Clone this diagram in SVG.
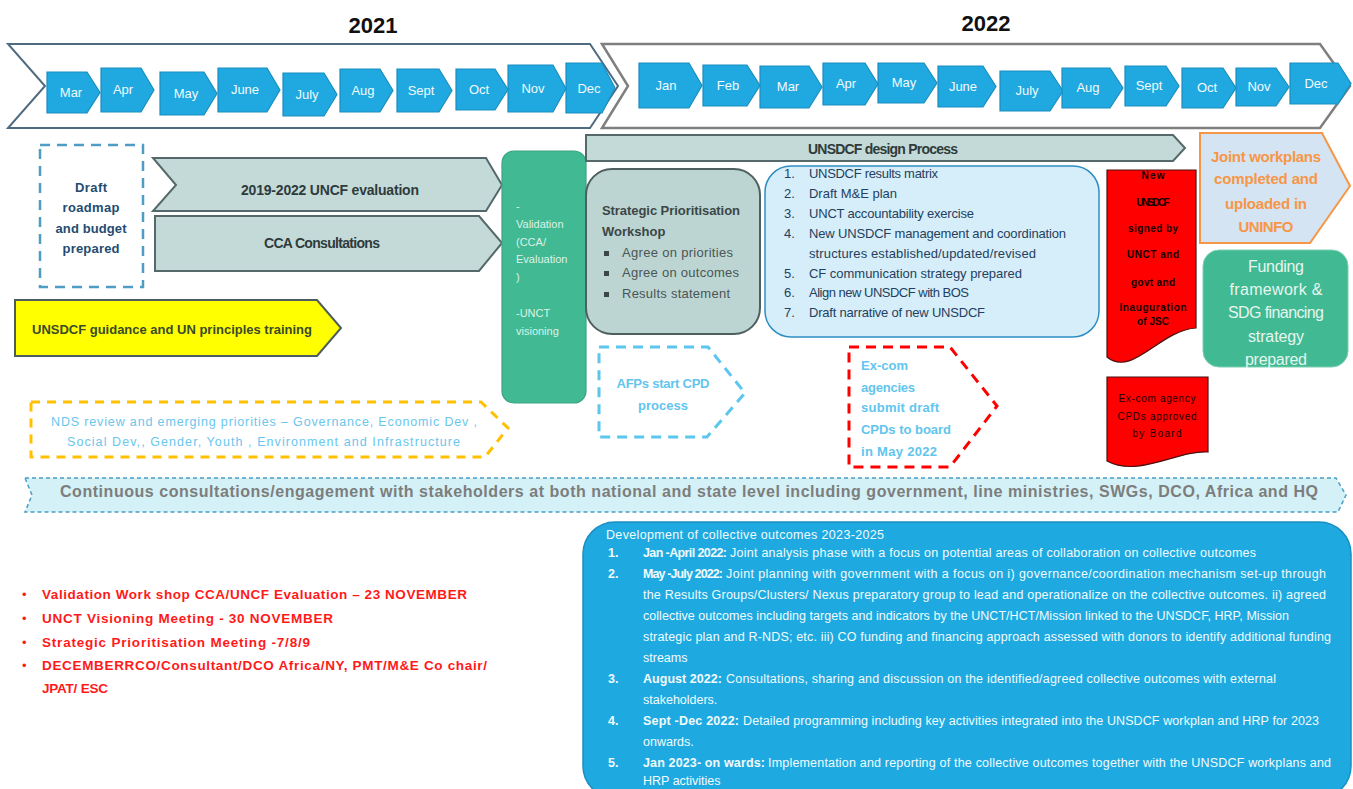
<svg xmlns="http://www.w3.org/2000/svg" width="1353" height="789" viewBox="0 0 1353 789">
<style>
text{font-family:"Liberation Sans",Arial,sans-serif}
.mon{fill:#1fa9e0;stroke:#1b8dbf;stroke-width:1.2}
.mt{fill:#f2fafd;font-size:13px;text-anchor:middle}
.yr{font-size:22px;font-weight:bold;fill:#111;text-anchor:middle}
.gch{fill:#c3dad9;stroke:#56696a;stroke-width:2}
.grn{fill:#41b993;stroke:#3aa583;stroke-width:1.2}
.red{fill:#ff0000;stroke:#4a1010;stroke-width:1.2}
.bt{fill:#f2fafd;font-size:12.5px}
.bl{font-weight:bold}
.rb{fill:#ff1a1a;font-size:13.5px;font-weight:bold}
.ri{fill:#243f60;font-size:13px}
.vt{fill:#dcf2e8;font-size:11px}
.lb{fill:#62c5ee;font-size:13px;font-weight:bold}
.dt{font-size:10px;fill:#140000;text-anchor:middle}
</style>

<!-- Year headers -->
<g id="year-2021"><text class="yr" x="373" y="33">2021</text></g>
<g id="year-2022"><text class="yr" x="986" y="31">2022</text></g>

<!-- big timeline chevrons -->
<g id="timeline-2021"><path d="M8,44 H590 L618,86 L590,128 H8 L45,86 Z" fill="#fff" stroke="#4f6b80" stroke-width="2"/></g>
<g id="timeline-2022"><path d="M602,44 H1320 L1350,86 L1320,128 H602 L628,86 Z" fill="#fff" stroke="#7f7f7f" stroke-width="2.5"/></g>

<!-- months 2021 -->
<g id="m-2021-mar"><path class="mon" d="M47,72 H87 L100,92.5 L87,113 H47 Z"/><text class="mt" x="71" y="97">Mar</text></g>
<g id="m-2021-apr"><path class="mon" d="M101,68 H141 L154,90 L141,112 H101 Z"/><text class="mt" x="123" y="94">Apr</text></g>
<g id="m-2021-may"><path class="mon" d="M160,72 H204 L217,93.5 L204,115 H160 Z"/><text class="mt" x="186" y="98">May</text></g>
<g id="m-2021-jun"><path class="mon" d="M218,68 H267 L280,90 L267,112 H218 Z"/><text class="mt" x="245" y="94">June</text></g>
<g id="m-2021-jul"><path class="mon" d="M283,73 H324 L337,94.5 L324,116 H283 Z"/><text class="mt" x="307" y="99">July</text></g>
<g id="m-2021-aug"><path class="mon" d="M340,69 H380 L393,90.5 L380,112 H340 Z"/><text class="mt" x="363" y="95">Aug</text></g>
<g id="m-2021-sep"><path class="mon" d="M397,69 H439 L452,90.5 L439,112 H397 Z"/><text class="mt" x="421" y="95">Sept</text></g>
<g id="m-2021-oct"><path class="mon" d="M456,69 H495 L508,89.5 L495,110 H456 Z"/><text class="mt" x="479" y="94">Oct</text></g>
<g id="m-2021-nov"><path class="mon" d="M508,65 H553 L566,88.5 L553,112 H508 Z"/><text class="mt" x="533" y="93">Nov</text></g>
<g id="m-2021-dec"><path class="mon" d="M566,63 H602 L615,88 L602,113 H566 Z"/><text class="mt" x="589" y="93">Dec</text></g>

<!-- months 2022 -->
<g id="m-2022-jan"><path class="mon" d="M639,63 H689 L702,85.5 L689,108 H639 Z"/><text class="mt" x="666" y="90">Jan</text></g>
<g id="m-2022-feb"><path class="mon" d="M703,65 H747 L760,85.5 L747,106 H703 Z"/><text class="mt" x="728" y="90">Feb</text></g>
<g id="m-2022-mar"><path class="mon" d="M760,66 H809 L822,87 L809,108 H760 Z"/><text class="mt" x="788" y="91">Mar</text></g>
<g id="m-2022-apr"><path class="mon" d="M823,63 H865 L878,84 L865,105 H823 Z"/><text class="mt" x="846" y="88">Apr</text></g>
<g id="m-2022-may"><path class="mon" d="M878,63 H924 L937,83 L924,103 H878 Z"/><text class="mt" x="904" y="87">May</text></g>
<g id="m-2022-jun"><path class="mon" d="M938,66 H983 L996,86.5 L983,107 H938 Z"/><text class="mt" x="963" y="91">June</text></g>
<g id="m-2022-jul"><path class="mon" d="M1000,71 H1050 L1063,91 L1050,111 H1000 Z"/><text class="mt" x="1027" y="95">July</text></g>
<g id="m-2022-aug"><path class="mon" d="M1062,68 H1110 L1123,88 L1110,108 H1062 Z"/><text class="mt" x="1088" y="92">Aug</text></g>
<g id="m-2022-sep"><path class="mon" d="M1125,66 H1166 L1179,86 L1166,106 H1125 Z"/><text class="mt" x="1149" y="90">Sept</text></g>
<g id="m-2022-oct"><path class="mon" d="M1182,68 H1223 L1236,88 L1223,108 H1182 Z"/><text class="mt" x="1207" y="92">Oct</text></g>
<g id="m-2022-nov"><path class="mon" d="M1236,68 H1276 L1289,87 L1276,106 H1236 Z"/><text class="mt" x="1259" y="91">Nov</text></g>
<g id="m-2022-dec"><path class="mon" d="M1290,63 H1338 L1351,83.5 L1338,104 H1290 Z"/><text class="mt" x="1316" y="88">Dec</text></g>

<!-- left column -->
<g id="draft-roadmap">
<rect x="40" y="145" width="103" height="142" fill="none" stroke="#4f9cc4" stroke-width="2.5" stroke-dasharray="10 7"/>
<g font-size="13" font-weight="bold" fill="#234c70" text-anchor="middle">
<text x="91" y="192" textLength="32">Draft</text>
<text x="91" y="212" textLength="57">roadmap</text>
<text x="91" y="233" textLength="71">and budget</text>
<text x="91" y="253" textLength="57">prepared</text>
</g>
</g>

<g id="uncf-evaluation">
<path class="gch" d="M153,158 H486 L502,185 L486,211 H153 L176,185 Z"/>
<text x="330" y="195" font-size="14" font-weight="bold" fill="#2f3b3b" text-anchor="middle" textLength="178">2019-2022  UNCF evaluation</text>
</g>

<g id="cca-consultations">
<path class="gch" d="M155,216 H479 L502,243 L479,271 H155 Z"/>
<text x="322" y="248" font-size="14" font-weight="bold" fill="#2f3b3b" text-anchor="middle" textLength="116">CCA Consultations</text>
</g>

<g id="guidance-training">
<path d="M15,300 H317 L341,328 L317,356 H15 Z" fill="#ffff00" stroke="#4d5d5d" stroke-width="2"/>
<text x="32" y="334" font-size="13" font-weight="bold" fill="#3a4a2a" textLength="280">UNSDCF guidance and UN principles training</text>
</g>

<g id="nds-review">
<path d="M31,402 H481 L508,428 L485,457 H31 Z" fill="none" stroke="#ffc000" stroke-width="3" stroke-dasharray="9 7"/>
<text x="51" y="426" font-size="12.5" fill="#6ac6ee" textLength="426">NDS review and emerging priorities – Governance,  Economic Dev ,</text>
<text x="67" y="446" font-size="12.5" fill="#6ac6ee" textLength="393">Social Dev,, Gender,  Youth ,  Environment and  Infrastructure</text>
</g>

<g id="validation">
<rect class="grn" x="502" y="151" width="84" height="252" rx="12"/>
<text class="vt" x="516" y="210">-</text>
<text class="vt" x="516" y="228">Validation</text>
<text class="vt" x="516" y="246">(CCA/</text>
<text class="vt" x="516" y="263">Evaluation</text>
<text class="vt" x="516" y="281">)</text>
<text class="vt" x="516" y="317">-UNCT</text>
<text class="vt" x="516" y="335">visioning</text>
</g>

<!-- design process -->
<g id="design-process">
<path class="gch" d="M586,135 H1173 L1185,148 L1173,161 H586 Z"/>
<text x="883" y="154" font-size="14" font-weight="bold" fill="#2f3b3b" text-anchor="middle" textLength="150">UNSDCF  design Process</text>
</g>

<g id="strategic-workshop">
<rect x="586" y="169" width="174" height="165" rx="26" fill="#bcd5d2" stroke="#4f5e5e" stroke-width="2"/>
<text x="602" y="215" font-size="13" font-weight="bold" fill="#3b4646" textLength="138">Strategic Prioritisation</text>
<text x="602" y="236" font-size="13" font-weight="bold" fill="#3b4646">Workshop</text>
<g fill="#3b4646"><rect x="604" y="251" width="5" height="5"/><rect x="604" y="271" width="5" height="5"/><rect x="604" y="292" width="5" height="5"/></g>
<text x="622" y="257" font-size="13" fill="#4a5555" textLength="111">Agree on priorities</text>
<text x="622" y="277" font-size="13" fill="#4a5555" textLength="117">Agree on outcomes</text>
<text x="622" y="298" font-size="13" fill="#4a5555" textLength="108">Results statement</text>
</g>

<g id="results-list">
<rect x="765" y="166" width="334" height="171" rx="26" fill="#d6eef9" stroke="#2f8ec4" stroke-width="1.5"/>
<text class="ri" x="784" y="178">1.</text><text class="ri" x="809" y="178" textLength="129">UNSDCF results matrix</text>
<text class="ri" x="784" y="198">2.</text><text class="ri" x="809" y="198" textLength="88">Draft M&amp;E plan</text>
<text class="ri" x="784" y="218">3.</text><text class="ri" x="809" y="218" textLength="165">UNCT accountability exercise</text>
<text class="ri" x="784" y="238">4.</text><text class="ri" x="809" y="238" textLength="257">New UNSDCF management and coordination</text>
<text class="ri" x="809" y="258" textLength="227">structures established/updated/revised</text>
<text class="ri" x="784" y="278">5.</text><text class="ri" x="809" y="278" textLength="213">CF communication strategy prepared</text>
<text class="ri" x="784" y="297">6.</text><text class="ri" x="809" y="297" textLength="160">Align new UNSDCF with BOS</text>
<text class="ri" x="784" y="317">7.</text><text class="ri" x="809" y="317" textLength="176">Draft narrative of new UNSDCF</text>
</g>

<g id="afps-cpd">
<path d="M599,347 H708 L745,393 L707,437 H599 Z" fill="none" stroke="#5cc6ee" stroke-width="3" stroke-dasharray="10 7"/>
<text class="lb" x="663" y="388" text-anchor="middle" textLength="93">AFPs start CPD</text>
<text class="lb" x="663" y="410" text-anchor="middle">process</text>
</g>

<g id="excom-submit">
<path d="M849,347 H950 L997,406 L950,467 H849 Z" fill="none" stroke="#ff0000" stroke-width="3" stroke-dasharray="10 7"/>
<text class="lb" x="861" y="370" textLength="47">Ex-com</text>
<text class="lb" x="861" y="392" textLength="54">agencies</text>
<text class="lb" x="861" y="412" textLength="78">submit draft</text>
<text class="lb" x="861" y="434" textLength="90">CPDs to board</text>
<text class="lb" x="861" y="456" textLength="76">in May 2022</text>
</g>

<g id="new-unsdcf-signed">
<path class="red" d="M1107,170 H1196 V328 C1160,330 1132,378 1107,357 Z"/>
<g font-weight="bold">
<text class="dt" x="1153" y="179" textLength="23">New</text>
<text class="dt" x="1153" y="206" textLength="33">UNSDCF</text>
<text class="dt" x="1153" y="232" textLength="50">signed by</text>
<text class="dt" x="1153" y="258" textLength="52">UNCT and</text>
<text class="dt" x="1153" y="286" textLength="44">govt and</text>
<text class="dt" x="1153" y="311" textLength="67">Inauguration</text>
<text class="dt" x="1153" y="325" textLength="32">of JSC</text>
</g>
</g>

<g id="excom-approved">
<path class="red" d="M1107,377 H1208 V452 C1178,450 1138,478 1107,461 Z"/>
<text class="dt" x="1157" y="402" textLength="77">Ex-com agency</text>
<text class="dt" x="1157" y="420" textLength="79">CPDs approved</text>
<text class="dt" x="1157" y="437" textLength="49">by  Board</text>
</g>

<g id="joint-workplans">
<path d="M1200,133 H1322 L1350,186 L1310,243 H1200 Z" fill="#d4e4f3" stroke="#f79646" stroke-width="2"/>
<g font-size="15" font-weight="bold" fill="#f79646" text-anchor="middle">
<text x="1266" y="162" textLength="110">Joint workplans</text>
<text x="1266" y="184" textLength="104">completed and</text>
<text x="1266" y="209" textLength="82">uploaded in</text>
<text x="1266" y="232" textLength="55">UNINFO</text>
</g>
</g>

<g id="funding-framework">
<rect x="1203" y="250" width="145" height="117" rx="16" fill="#41b993" stroke="#7ccfb0" stroke-width="1"/>
<g font-size="16" fill="#e6f6ef" text-anchor="middle">
<text x="1276" y="272" textLength="56">Funding</text>
<text x="1276" y="295" textLength="93">framework  &amp;</text>
<text x="1276" y="318" textLength="96">SDG financing</text>
<text x="1276" y="342" textLength="56">strategy</text>
<text x="1276" y="365" textLength="62">prepared</text>
</g>
</g>

<g id="continuous-consultations">
<path d="M25,478 H1336 L1346,495 L1338,512 H25 L32,495 Z" fill="#d3f1f6" stroke="#4a9fc5" stroke-width="1.5" stroke-dasharray="4 3"/>
<text x="60" y="497" font-size="16" font-weight="bold" fill="#7d7d7d" textLength="1258">Continuous  consultations/engagement  with stakeholders at both national and state level including government, line ministries, SWGs, DCO, Africa and HQ</text>
</g>

<g id="key-meetings">
<g fill="#ff1a1a" font-size="13"><text x="22" y="599">•</text><text x="22" y="623">•</text><text x="22" y="647">•</text><text x="22" y="670">•</text></g>
<text class="rb" x="42" y="599" textLength="425">Validation Work shop CCA/UNCF Evaluation – 23 NOVEMBER</text>
<text class="rb" x="42" y="623" textLength="291">UNCT Visioning Meeting  - 30 NOVEMBER</text>
<text class="rb" x="42" y="647" textLength="268">Strategic Prioritisation Meeting -7/8/9</text>
<text class="rb" x="42" y="670" textLength="445">DECEMBERRCO/Consultant/DCO Africa/NY, PMT/M&amp;E Co chair/</text>
<text class="rb" x="42" y="693" textLength="66">JPAT/ ESC</text>
</g>

<g id="collective-outcomes">
<rect x="583" y="522" width="768" height="276" rx="32" fill="#1eaae1" stroke="#1b8ec0" stroke-width="1.5"/>
<text class="bt" x="606" y="539" font-size="12" textLength="278">Development of collective outcomes 2023-2025</text>
<text class="bt bl" x="608" y="557">1.</text>
<text class="bt bl" x="643" y="557" textLength="84">Jan -April 2022:</text>
<text class="bt" x="730" y="557" textLength="526">Joint analysis phase with a focus on potential areas of collaboration on collective outcomes</text>
<text class="bt bl" x="608" y="578">2.</text>
<text class="bt bl" x="643" y="578" textLength="80">May -July 2022:</text>
<text class="bt" x="726" y="578" textLength="600">Joint planning with government with a focus on i) governance/coordination mechanism set-up through</text>
<text class="bt" x="643" y="599" textLength="683">the Results Groups/Clusters/ Nexus preparatory group to lead and operationalize on the collective outcomes. ii) agreed</text>
<text class="bt" x="643" y="620" textLength="646">collective outcomes including targets and indicators by the UNCT/HCT/Mission linked to the UNSDCF, HRP, Mission</text>
<text class="bt" x="643" y="641" textLength="688">strategic plan and R-NDS; etc. iii) CO funding and financing approach assessed with donors to identify additional funding</text>
<text class="bt" x="643" y="662">streams</text>
<text class="bt bl" x="608" y="683">3.</text>
<text class="bt bl" x="643" y="683" textLength="79">August 2022:</text>
<text class="bt" x="726" y="683" textLength="550">Consultations, sharing and discussion on the identified/agreed collective outcomes with external</text>
<text class="bt" x="643" y="704">stakeholders.</text>
<text class="bt bl" x="608" y="725">4.</text>
<text class="bt bl" x="643" y="725" textLength="96">Sept -Dec 2022:</text>
<text class="bt" x="743" y="725" textLength="576">Detailed programming including key activities integrated into the UNSDCF workplan and HRP for 2023</text>
<text class="bt" x="643" y="746">onwards.</text>
<text class="bt bl" x="608" y="767">5.</text>
<text class="bt bl" x="643" y="767" textLength="122">Jan 2023- on wards:</text>
<text class="bt" x="768" y="767" textLength="563">Implementation and reporting of the collective outcomes together with the UNSDCF workplans and</text>
<text class="bt" x="643" y="785">HRP activities</text>
</g>

<g id="connectors"></g>
</svg>
